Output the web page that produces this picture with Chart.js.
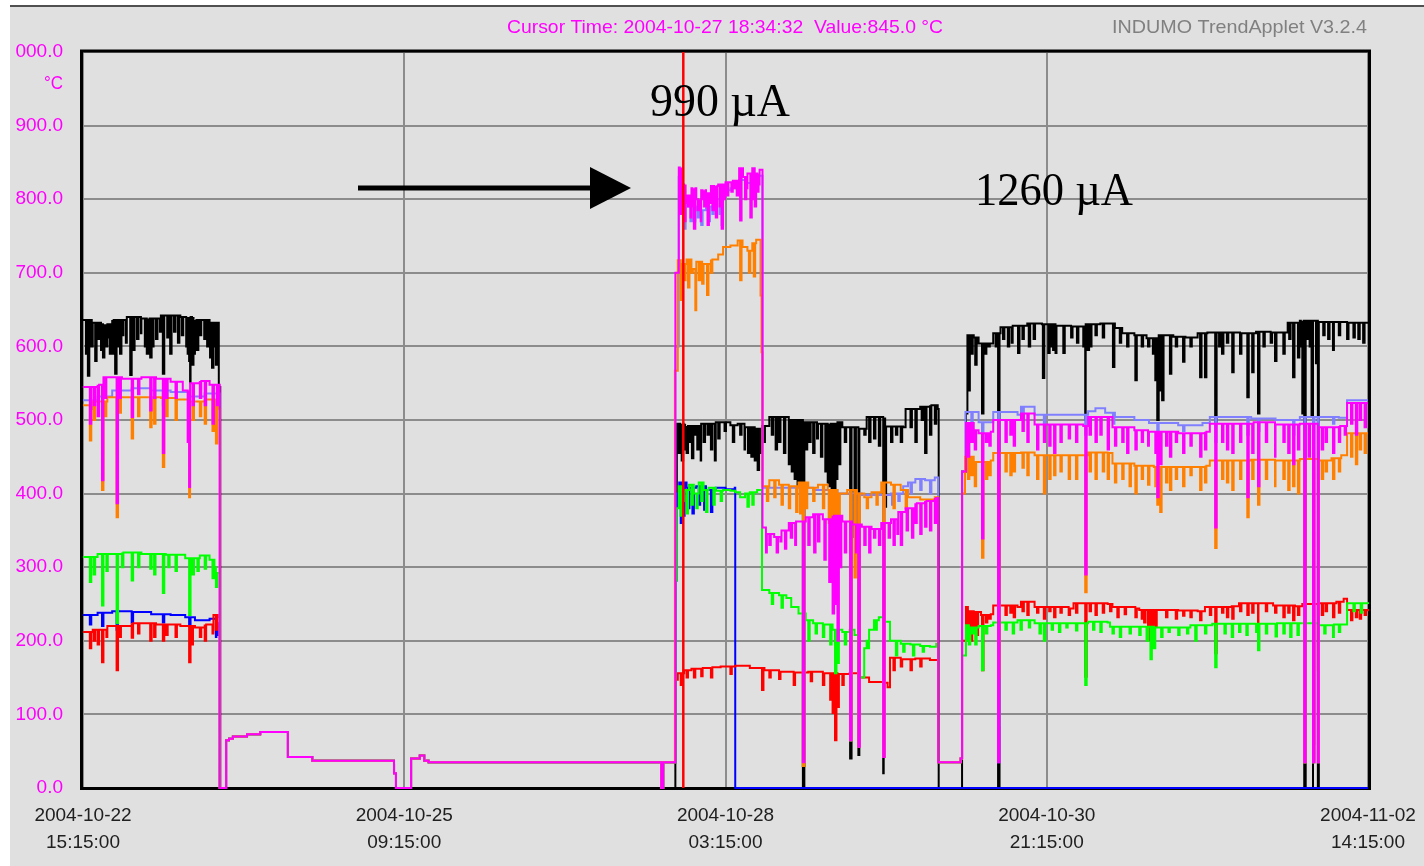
<!DOCTYPE html>
<html><head><meta charset="utf-8">
<script src="https://cdn.jsdelivr.net/npm/chart.js@4.4.0/dist/chart.umd.min.js"></script>
<style>html,body{margin:0;padding:0;background:#fff;overflow:hidden}</style>
</head><body><canvas id="c" width="1424" height="866"></canvas>
<script>
// ---- axis / tick data ----
const tickHours = [0, 66, 132, 198, 264];
const tickDates = ['2004-10-22', '2004-10-25', '2004-10-28', '2004-10-30', '2004-11-02'];
const tickTimes = ['15:15:00', '09:15:00', '03:15:00', '21:15:00', '14:15:00'];
const cursorHour = 123.33; // 2004-10-27 18:34:32
const titleText = 'Cursor Time: 2004-10-27 18:34:32  Value:845.0 \u00b0C';
const versionText = 'INDUMO TrendApplet V3.2.4';

// ---- series values: [hours since 2004-10-22 15:15, °C] ----
const idle1 = [[28.1,0],[29.4,65],[30.0,67],[30.8,70],[33.7,73],[36.4,76],[42.1,42],[47.1,37],[63.9,20],[64.3,0],[67.4,40],[69.2,44],[70.1,37],[71.0,35],[118.8,0],[119.2,35]];
const idle2 = [[175.7,35],[180.3,40]];

const magentaBase = [
 [0,545],[3,548],[4.2,558],[8,556],[12,558],[15,556],[18,552],[20.5,540],[22,550],[24,553],[26,548],[27.9,548],
 ...idle1,
 [121.7,700],[122.4,843],[123.0,820],[124.0,805],[125.0,815],[126.0,800],[127.0,812],[128.0,808],[129.0,818],[130.5,820],[132.0,823],[133.5,825],[134.8,842],[135.6,830],[136.5,835],[137.5,842],[138.3,835],[139.0,840],
 [139.6,354],[140.5,345],[142,341],[143.5,350],[145,360],[146.5,362],[148.5,368],[150,372],[152,365],[154,370],[156,362],[158,358],[160,355],[162,352],[164,360],[166,365],[167.5,375],[169,380],[171,387],[173,390],[175,394],
 ...idle2,
 [180.6,430],[181.4,496],[183.0,486],[184.0,482],[186.5,484],[187.0,500],[192.0,500],[192.7,509],[194.5,509],[195.5,494],[205.5,492],[206.5,504],[210.5,504],[211.5,490],[216,486],[219,484],[225,482],[230.5,484],[231.5,495],[240.5,497],[245,494],[250,495],[253.9,490],[258,492],[259.7,523],[264,523]
];
const magentaSpikes = [
 [1.4,495],[2.2,520],[3.0,505],[3.9,418],[4.5,530],[6.9,387],[7.5,530],[10.0,504],[11.3,535],[13.8,513],[14.6,530],[16.4,455],[17.1,530],[19.0,530],[21.5,470],[21.8,409],[22.5,520],[24.0,530],[25.0,520],[26.6,495],[27.5,520],
 [122.6,780],[122.9,800],[123.5,770],[123.8,795],[124.3,790],[124.8,775],[125.2,790],[125.5,760],[126.3,785],[126.6,795],[126.9,770],[127.3,800],[127.6,790],[128.3,765],[128.7,795],[129.3,785],[129.7,800],[130.0,775],[130.8,790],[131.2,760],[131.6,800],[132.3,805],[133.2,810],[133.7,815],[134.3,805],[135.0,771],[136.0,800],[136.4,815],[137.1,775],[137.6,800],[138.0,790],[138.5,810],[138.8,820],
 [140.3,320],[141.0,330],[142.5,320],[143.3,335],[144.2,325],[145.4,340],[146.3,330],[147.9,35],[148.1,35],[149.0,330],[150.2,320],[151.0,335],[152.3,310],[153.3,280],[154.0,237],[154.5,250],[155.0,200],[155.5,300],[156.5,320],[157.6,65],[158.8,320],[159.3,56],[160.5,330],[161.5,320],[162.5,340],[163.5,330],[164.4,42],[165.5,340],[166.5,330],[167.3,345],[168.0,330],[169.2,350],[170.3,340],[171.0,360],[172.0,345],[173.0,355],[174.0,350],[175.0,360],
 [181.8,450],[182.5,470],[183.2,460],[184.7,339],[185.5,470],[186.2,465],[188.0,35],[189.5,470],[190.5,480],[191.2,465],[193.0,485],[194.0,470],[196.0,460],[197.4,470],[198.5,465],[199.5,455],[200.8,470],[202.5,475],[204.0,470],[205.9,290],[206.8,480],[208.0,470],[209.0,480],[210.5,460],[212.0,465],[213.5,470],[214.5,455],[216.2,460],[217.5,470],[218.8,465],[220.3,455],[220.7,395],[221.3,440],[222.5,465],[223.3,450],[224.5,470],[226.0,455],[227.5,465],[229.5,450],[230.5,460],[232.6,354],[234.0,470],[235.0,460],[236.1,455],[237.7,470],[239.2,395],[240.2,455],[241.4,410],[243.0,470],[244.9,450],[246.6,470],[247.6,455],[248.6,440],[249.6,460],[250.9,35],[251.8,450],[252.7,35],[253.7,35],[254.5,460],[255.3,470],[256.8,455],[258.0,470],[259.2,480],[260.5,495],[261.5,480],[262.3,500],[263.3,490]
];

const lightblueBase = [
 [0,527],[3,532],[6,540],[10,543],[14,540],[18,538],[22,532],[25,536],[27.9,536],
 ...idle1,
 [121.7,600],[122.4,830],[123,800],[124,790],[126,785],[128,790],[130,800],[131.5,812],[133,815],[134.8,826],[136,822],[137.5,830],[138.5,832],
 [139.6,408],[145,408],[150,405],[155,400],[160,398],[163,398],[166,400],[168.5,410],[169.5,415],[171,420],[173,418],[175,422],
 ...idle2,
 [180.6,430],[181.3,511],[183.0,511],[184.0,497],[186.5,497],[187.0,511],[192.0,507],[192.7,518],[194.0,518],[195.5,507],[205.9,507],[206.5,512],[208,516],[210,510],[212,504],[216,500],[219,496],[225,493],[230,496],[231.5,504],[240,502],[245,500],[250,504],[253.9,504],[258,503],[259.7,527],[264,527]
];
const lightblueSpikes = [
 [2.0,515],[7.0,520],[16.4,520],[21.8,518],
 [123.5,760],[124.8,770],[125.5,770],[126.3,775],[127,765],[128.5,770],[129.3,780],[130.8,780],[131.2,765],
 [147.9,35],[157.6,65],[159.3,56],[164.4,42],[166.2,385],[167.5,390],[170,400],[172,405],[174,400],
 [182.5,490],[184.7,470],[188.0,35],[193.0,500],[197.4,495],[205.9,480],[211.6,495],[220.7,470],[226.0,485],[232.6,470],[239.2,480],[241.4,485],[248.6,480],[250.9,35],[252.7,35],[253.7,35],[256.8,495]
];

const orangeBase = [
 [0,520],[2,525],[5,531],[10,531],[16,530],[19,528],[22,525],[25,528],[27.9,515],
 ...idle1,
 [121.6,567],[122.2,717],[123,712],[124,718],[125,705],[126,715],[127.5,712],[129,718],[130.5,725],[131.5,735],[133,737],[134.5,744],[135.5,735],[136.5,730],[137.5,740],[138.3,745],[139.2,669],[139.4,592],
 [139.6,410],[141,418],[143,412],[145,410],[147,415],[149,408],[151,412],[153,405],[155,400],[157,405],[159,400],[160.5,395],[162,402],[164,415],[166,412],[168,405],[169.5,395],[172,392],[175,395],
 ...idle2,
 [180.6,400],[181.2,450],[183.0,443],[186.5,445],[187.0,455],[192.7,456],[195.5,452],[205.5,452],[206.5,456],[210.5,455],[211.5,441],[216,438],[220,436],[225,436],[230.5,438],[231.5,445],[240,446],[245,445],[250,447],[253.9,445],[256.5,448],[258.5,452],[259.7,482],[264,482]
];
const orangeSpikes = [
 [1.4,472],[2.2,500],[3.9,405],[4.5,505],[6.9,368],[7.5,510],[10.0,475],[11.3,505],[13.8,490],[14.6,495],[16.4,436],[17.1,505],[19.0,500],[21.8,395],[22.5,500],[24.0,505],[25.0,495],[26.6,485],[27.3,468],
 [122.8,663],[123.5,690],[124.3,680],[125.0,700],[125.8,649],[126.5,690],[127.2,685],[128.2,670],[129.0,700],[135.0,690],[136.8,700],[137.8,695],
 [140.5,390],[142.0,395],[143.5,385],[145.0,380],[146.5,375],[147.3,373],[147.9,30],[148.5,380],[150.0,390],[152.0,380],[153.2,360],[153.8,354],[154.5,360],[155.2,370],[157.6,65],[158.5,286],[159.3,56],[161.0,380],[163.0,385],[164.4,42],[166.5,380],[169.0,380],
 [181.8,420],[182.5,425],[183.2,410],[184.7,313],[185.5,420],[186.2,425],[188.0,150],[189.5,430],[190.5,425],[191.2,430],[193.0,435],[194.0,425],[196.0,420],[197.4,400],[198.5,420],[199.5,425],[200.8,430],[202.5,420],[204.0,420],[205.9,266],[206.8,430],[208.0,420],[209.5,430],[210.5,420],[212.0,415],[213.5,420],[215.0,410],[216.2,400],[217.5,420],[218.8,412],[220.3,410],[220.7,385],[221.3,375],[222.5,415],[223.3,405],[224.5,420],[226.0,410],[227.5,425],[229.5,405],[230.5,415],[232.6,326],[234.0,420],[235.0,415],[236.1,405],[237.7,420],[239.2,368],[240.2,420],[241.4,385],[243.0,420],[244.9,410],[246.6,420],[247.6,405],[248.6,410],[249.6,400],[250.9,35],[252.7,35],[253.7,35],[254.5,420],[255.3,430],[256.8,420],[258.0,430],[260.5,450],[261.5,440],[262.3,460],[263.3,455]
];

const greenBase = [
 [0,314],[3,318],[8,320],[12,318],[17,317],[21,312],[24,316],[26,310],[27.0,300],[27.6,292],
 ...idle1,
 [121.7,282],[122.0,380],[122.4,410],[123.5,405],[124.5,412],[125.5,400],[126.5,415],[127.5,405],[128.5,408],[130,404],[131.5,405],[133,404],[134,402],[135,395],[136,400],[137,402],[138.5,405],
 [139.5,269],[141,265],[143,262],[144.5,258],[145.5,246],[147,237],[148.5,228],[150,224],[152,222],[154,215],[156,212],[157.5,215],[158.5,208],[159.5,150],[160.5,190],[161.5,215],[162.5,228],[163.5,232],[164.6,226],[165.8,200],[168,196],[170,195],[172,193],[174,192],[175.3,196],
 ...idle2,
 [180.6,180],[181.4,221],[182,218],[184,220],[186.5,221],[187,225],[192,228],[195.5,224],[205.5,224],[206.5,226],[210.5,225],[211,219],[220,218],[225,218],[227.5,221],[232,223],[240,223],[245,224],[250,224],[253.9,221],[257,222],[259.7,251],[264,250]
];
const greenSpikes = [
 [1.4,280],[2.2,290],[3.9,248],[4.8,295],[6.9,224],[8.0,300],[10.0,282],[11.3,300],[13.8,298],[14.6,290],[16.4,265],[17.5,300],[19.0,295],[21.8,235],[22.5,290],[23.5,295],[25.0,298],[26.6,285],[27.3,273],
 [122.8,370],[123.2,390],[124.0,373],[125.0,385],[126.0,380],[127.0,390],[128.0,375],[129.5,385],[131,390],[136.5,382],[137.5,385],
 [141.5,250],[143.5,245],[147.9,30],[149.0,200],[150.5,210],[152.0,205],[153.5,195],[154.5,156],[155.0,170],[156.5,195],[157.6,65],[159.3,56],[161.0,200],[162.8,215],[164.4,42],[167.0,180],[168.5,185],[170.5,180],[172.5,185],
 [181.5,200],[182.0,195],[182.6,210],[183.3,195],[184.7,160],[185.5,210],[188.0,85],[189.5,215],[191.0,210],[192.6,215],[194.3,218],[196.5,210],[197.4,200],[199.0,215],[200.5,212],[202.0,218],[204.0,214],[205.9,140],[207.5,215],[209.0,212],[211.5,210],[213.0,205],[215.0,210],[217.0,208],[218.5,200],[219.3,175],[220.0,190],[221.5,205],[223.0,212],[225.0,208],[226.8,210],[228.5,200],[230.5,210],[232.6,164],[234.5,210],[236.0,205],[237.5,212],[239.0,208],[241.0,212],[241.4,187],[243.0,210],[245.0,206],[246.6,210],[248.0,205],[249.5,208],[250.9,35],[252.7,35],[253.7,150],[255.0,210],[256.8,205],[258.0,212],[261.0,240],[262.5,238]
];

const blueBase = [
 [0,235],[3,238],[6,240],[10,239],[14,236],[18,235],[21,232],[23,228],[26,230],[27.4,224],[27.8,208],
 ...idle1,
 [121.7,282],[122.0,400],[122.5,415],[124,408],[126,410],[128,405],[130,408],[132,406],[133.9,408],[134.0,0],[264,0]
];
const blueSpikes = [
 [1.4,222],[3.9,220],[6.9,215],[10,225],[16.4,225],[21.8,222],[27.3,205],
 [122.8,360],[123.3,370],[124.3,380],[125.2,373],[126.5,385],[127.6,378],[129.0,375]
];

const redBase = [
 [0,212],[2,215],[5,220],[10,224],[15,222],[20,220],[23,218],[25,222],[26.8,235],[27.9,232],
 ...idle1,
 [121.7,147],[122.2,156],[123.5,160],[125,162],[127,163],[129,164],[131,165],[134,166],[137,163],[140,160],[143,158],[146,157],[149,158],[152,156],[155,155],[157.5,156],[159.5,150],[161.5,144],[164.5,143],[165.3,137],[165.8,177],[168,175],[171,176],[174,174],
 ...idle2,
 [180.6,200],[181.4,246],[182,240],[183,239],[184.5,235],[186.5,236],[187,248],[192,246],[192.7,253],[194.5,253],[195.5,246],[202.5,244],[203.5,251],[206.5,251],[210.5,250],[211.5,246],[216.5,244],[217,242],[225,241],[229,240],[230.5,246],[236,247],[237.5,251],[241.5,251],[244.5,248],[249,247],[250.5,250],[253.9,251],[257.5,253],[259,257],[259.7,242],[264,240]
];
const redSpikes = [
 [1.4,190],[2.2,200],[3.0,195],[3.9,171],[4.8,205],[6.9,160],[7.5,205],[10.0,204],[11.3,210],[13.8,200],[14.6,205],[16.4,200],[17.1,208],[19.0,205],[21.8,171],[22.3,195],[24.0,205],[25.0,200],[26.6,210],[27.3,215],
 [122.8,140],[124.0,150],[125.5,150],[127.0,152],[129.0,150],[133.0,155],[139.5,133],[141.0,150],[143.0,148],[146.0,140],[147.9,30],[149.5,145],[152.0,140],[153.5,120],[154.0,102],[154.5,65],[155.0,110],[156.0,140],[157.6,65],[159.3,56],[164.4,42],[166.5,160],[168.0,165],[170.0,160],[172.0,165],
 [181.8,220],[182.4,200],[183.0,215],[183.6,208],[184.7,160],[185.5,225],[186.2,230],[188.0,90],[189.5,235],[190.5,238],[191.2,232],[193.0,240],[194.0,235],[196.0,238],[197.4,230],[198.5,240],[199.5,232],[200.8,238],[202.5,235],[204.0,238],[205.9,151],[206.8,240],[208.0,235],[209.5,238],[211.0,240],[212.5,232],[214.0,236],[216.2,232],[217.5,230],[218.0,225],[218.8,215],[219.2,201],[219.6,210],[220.3,220],[222.5,232],[224.5,230],[226.0,234],[227.5,232],[229.5,228],[231.5,235],[232.6,183],[234.0,238],[235.0,232],[236.1,230],[237.7,240],[239.2,235],[240.2,238],[241.4,225],[243.0,240],[244.9,238],[246.6,232],[247.6,238],[248.6,228],[249.6,235],[250.9,35],[252.7,60],[253.7,160],[254.5,235],[255.3,240],[256.8,232],[258.0,238],[260.5,228],[261.5,232],[262.3,230],[263.3,235]
];

const blackBase = [
 [0,636],[2,632],[4,630],[6,636],[9,640],[12,638],[16,642],[20,640],[23,636],[26,632],[27.9,545],[28.2,0],
 [121.7,350],[122.0,495],[124,492],[127,495],[130,497],[133,493],[134.5,495],[136,490],[138,488],[139.5,492],[141,504],[145,500],[148,497],[151,495],[155,497],[156,490],[159.5,488],[161,504],[164.5,502],[165,491],[168.5,490],[169,515],[172,518],[174,520],[175.6,515],[175.8,0],
 [180.6,430],[181.4,509],[181.7,615],[183,612],[184,604],[186.5,604],[187,618],[188.5,626],[191,628],[194,631],[197,630],[200,628],[203,627],[206,630],[209,631],[212,625],[213.5,618],[216,615],[218.5,611],[221,615],[224,613],[226.5,612],[229,618],[231,619],[235,619],[238,618],[241,620],[244,619],[247.5,632],[250,635],[253.9,633],[257,633],[260,632],[264,631]
];
const blackSpikes = [
 [0.6,590],[1.0,560],[1.4,600],[1.8,600],[2.5,580],[3.1,610],[3.7,595],[4.1,585],[4.4,605],[4.7,600],[5.1,612],[5.5,590],[6.0,590],[6.6,563],[7.2,600],[7.6,590],[8.0,615],[8.8,605],[9.7,561],[10.3,595],[11.1,610],[11.9,618],[12.7,600],[13.1,590],[13.4,595],[13.8,585],[14.2,600],[15.0,610],[15.8,620],[16.4,563],[17.3,612],[17.9,590],[18.7,620],[19.5,605],[20.3,615],[21.2,600],[21.5,590],[21.8,580],[22.0,551],[22.4,575],[22.7,590],[23.0,600],[23.4,595],[24.0,615],[24.9,610],[25.5,600],[26.1,585],[26.5,571],[26.9,600],[27.3,575],
 [122.3,455],[122.7,470],[123.0,445],[123.4,460],[123.7,475],[124.0,455],[124.6,470],[125.1,448],[125.6,480],[126.2,460],[126.9,445],[127.5,470],[128.3,480],[129.0,460],[129.8,445],[130.5,475],[131.8,485],[133.5,470],[135.0,480],[135.9,460],[136.6,455],[137.3,450],[138.0,445],[138.6,432],[139.2,455],[139.8,470],[141.5,480],[142.3,460],[143.0,470],[144.0,455],[145.0,440],[145.6,430],[146.2,420],[146.8,409],[147.3,415],[147.9,0],[148.1,0],[148.5,460],[149.2,470],[150.0,455],[150.8,475],[151.6,450],[152.5,430],[153.0,415],[153.3,410],[153.8,400],[154.3,405],[154.8,420],[155.3,440],[156.5,470],[157.6,40],[158.5,341],[159.3,45],[160.5,480],[161.5,470],[162.5,475],[163.5,465],[164.4,20],[164.8,382],[166.0,470],[167.0,480],[168.0,470],[170.0,490],[171.0,470],[172.3,500],[173.0,455],[174.0,480],[175.0,495],
 [181.9,540],[182.5,590],[183.3,575],[184.7,509],[185.3,590],[186.0,600],[187.5,600],[188.0,0],[189.0,610],[190.0,600],[190.8,605],[192.1,591],[193.0,610],[194.3,600],[195.3,610],[197.2,557],[198.3,591],[198.8,600],[199.3,595],[199.8,591],[201.4,591],[203.0,612],[204.2,605],[205.5,600],[205.9,500],[206.4,595],[206.9,600],[208.0,615],[209.5,612],[211.6,572],[213.0,605],[214.5,600],[216.2,554],[217.5,600],[218.8,600],[219.8,590],[220.3,554],[220.7,500],[221.1,540],[221.7,527],[223.3,563],[224.5,600],[226.0,579],[227.5,600],[229.5,558],[230.5,558],[232.6,497],[233.4,600],[234.0,590],[235.0,605],[236.1,565],[237.7,590],[239.2,531],[240.2,565],[241.4,509],[242.5,600],[244.0,605],[244.9,580],[246.6,590],[247.8,610],[248.6,558],[249.6,585],[250.2,600],[250.5,509],[250.9,0],[251.6,610],[252.0,600],[252.4,504],[252.7,0],[253.3,577],[253.7,0],[254.8,615],[255.8,610],[256.8,595],[258.0,615],[259.7,610],[261.0,612],[262.0,610],[263.0,605]
];

// ---- build step data (spike = one sample, then back to the held value) ----
const SPIKE_W = 0.3;
function heldAt(base, t) { let v = base[0][1]; for (const [bt, bv] of base) { if (bt <= t) v = bv; else break; } return v; }
function build(base, spikes) {
  const pts = base.map(([x, y]) => ({x, y}));
  for (const [t, v] of spikes) {
    pts.push({x: t, y: v});
    pts.push({x: t + SPIKE_W, y: heldAt(base, t + SPIKE_W)});
  }
  pts.sort((a, b) => a.x - b.x);
  return pts;
}

const series = [
  {label: 'T1', color: '#ff00ff', base: magentaBase, spikes: magentaSpikes},
  {label: 'T2', color: '#ff8000', base: orangeBase, spikes: orangeSpikes},
  {label: 'T3', color: '#8080ff', base: lightblueBase, spikes: lightblueSpikes},
  {label: 'T4', color: '#00ff00', base: greenBase, spikes: greenSpikes},
  {label: 'T5', color: '#ff0000', base: redBase, spikes: redSpikes},
  {label: 'T6', color: '#0000ff', base: blueBase, spikes: blueSpikes},
  {label: 'T7', color: '#000000', base: blackBase, spikes: blackSpikes}
];

function fitText(ctx, text, left, baseline, width, font, color) {
  ctx.save();
  ctx.font = font; ctx.fillStyle = color; ctx.textBaseline = 'alphabetic'; ctx.textAlign = 'left';
  const w = ctx.measureText(text).width;
  ctx.translate(left, baseline); ctx.scale(width / w, 1);
  ctx.fillText(text, 0, 0);
  ctx.restore();
}

const decor = {
  id: 'decor',
  beforeDraw(chart) {
    const c = chart.ctx, W = chart.width, H = chart.height;
    c.save();
    c.fillStyle = '#ffffff'; c.fillRect(0, 0, W, H);
    c.fillStyle = '#e0e0e0'; c.fillRect(10, 6, W - 10, H - 6);
    c.fillStyle = '#505050'; c.fillRect(10, 5, W - 10, 2);
    c.restore();
    fitText(c, titleText, 507, 33, 436, '19px "Liberation Sans", Arial, sans-serif', '#ff00ff');
    fitText(c, versionText, 1112, 33, 255, '19px "Liberation Sans", Arial, sans-serif', '#808080');
    fitText(c, '\u00b0C', 44, 89, 19, '19px "Liberation Sans", Arial, sans-serif', '#ff00ff');
  },
  beforeDatasetsDraw(chart) {
    const c = chart.ctx, a = chart.chartArea;
    c.save();
    c.strokeStyle = '#000'; c.lineWidth = 3;
    c.strokeRect(a.left - 1.5, a.top - 1, a.right - a.left + 3, a.bottom - a.top + 1.5);
    c.restore();
  },
  afterDatasetsDraw(chart) {
    const c = chart.ctx, a = chart.chartArea;
    const x = chart.scales.x.getPixelForValue(cursorHour);
    c.save();
    c.strokeStyle = '#ff0000'; c.lineWidth = 2.5;
    c.beginPath(); c.moveTo(x, a.top); c.lineTo(x, a.bottom); c.stroke();
    c.restore();
  },
  afterDraw(chart) {
    const c = chart.ctx;
    fitText(c, '990 \u00b5A', 650, 116, 140, '46px "Liberation Serif", "Times New Roman", serif', '#000');
    fitText(c, '1260 \u00b5A', 975, 205, 158, '46px "Liberation Serif", "Times New Roman", serif', '#000');
    c.save();
    c.fillStyle = '#000';
    c.fillRect(358, 185.5, 236, 5);
    c.beginPath(); c.moveTo(590, 167); c.lineTo(631, 188); c.lineTo(590, 209); c.closePath(); c.fill();
    c.restore();
  }
};

new Chart(document.getElementById('c'), {
  type: 'line',
  data: {
    datasets: series.map(s => ({
      label: s.label, data: build(s.base, s.spikes), borderColor: s.color,
      borderWidth: 2, pointRadius: 0, stepped: true, fill: false, tension: 0,
      clip: {left: 2, right: 2, top: 2, bottom: 3}
    }))
  },
  options: {
    responsive: false, devicePixelRatio: 1, animation: false, events: [],
    layout: {padding: {left: 10, right: 56, top: 52, bottom: 0}},
    plugins: {legend: {display: false}, tooltip: {enabled: false}},
    scales: {
      x: {
        type: 'linear', min: 0, max: 264,
        afterBuildTicks: s => { s.ticks = tickHours.map(v => ({value: v})); },
        afterFit: s => { s.height = 78; s.paddingLeft = 0; s.paddingRight = 0; },
        border: {display: false},
        grid: {color: '#8c8c8c', lineWidth: 2, drawTicks: false},
        ticks: {
          autoSkip: false, maxRotation: 0, padding: 14, color: '#202020',
          font: {family: '"Liberation Sans", Arial, sans-serif', size: 19, lineHeight: 1.42},
          callback: v => { const i = tickHours.indexOf(v); return i < 0 ? '' : [tickDates[i], tickTimes[i]]; }
        }
      },
      y: {
        min: 0, max: 1000,
        afterFit: s => { s.width = 73; s.paddingTop = 0; s.paddingBottom = 0; },
        border: {display: false},
        grid: {color: '#8c8c8c', lineWidth: 2, drawTicks: false},
        ticks: {
          stepSize: 100, padding: 20, color: '#ff00ff',
          font: {family: '"Liberation Sans", Arial, sans-serif', size: 19},
          callback: v => v === 1000 ? '000.0' : v.toFixed(1)
        }
      }
    }
  },
  plugins: [decor]
});
</script></body></html>
